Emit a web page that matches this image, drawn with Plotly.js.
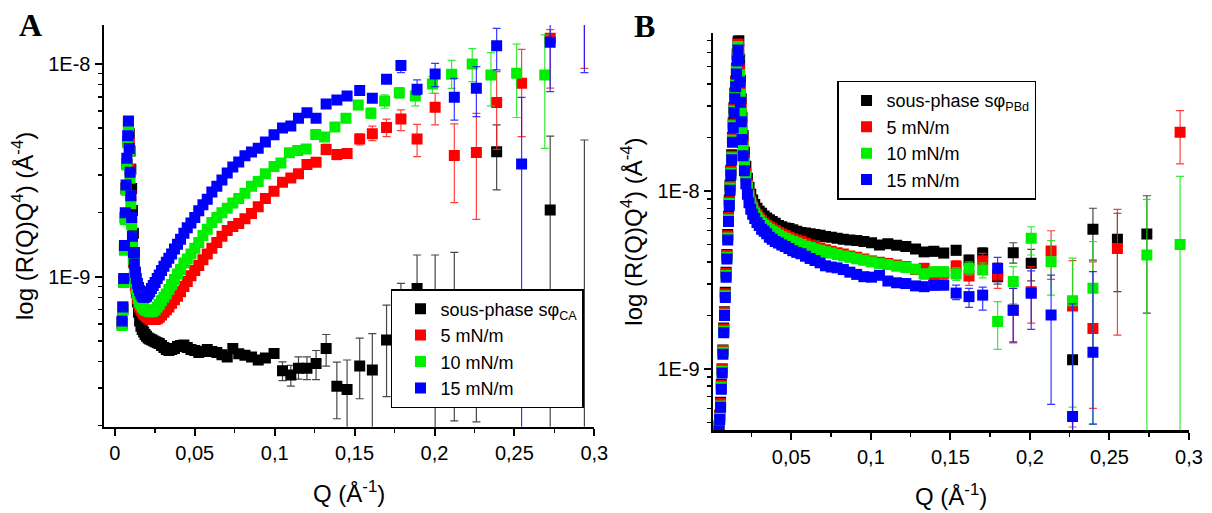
<!DOCTYPE html>
<html><head><meta charset="utf-8">
<script src="https://cdn.plot.ly/plotly-3.0.1.min.js"></script>
<style>html,body{margin:0;padding:0;background:#fff}#chart{width:1212px;height:513px}</style>
</head><body><div id="chart"></div>
<script>
// ---------- Panel A data ----------
var qA = [0.0045,0.005,0.0055,0.006,0.0065,0.007,0.0075,0.008,0.0085,0.009,
 0.0095,0.01,0.0105,0.011,0.0116,0.0122,0.0128,0.0134,0.0141,0.0148,
 0.0155,0.0163,0.0171,0.018,0.0189,0.0198,0.0208,0.0218,0.0229,0.024,
 0.0252,0.0265,0.0278,0.0292,0.0307,0.0322,0.0338,0.0355,0.0373,0.0392,
 0.0411,0.0432,0.0453,0.0476,0.05,0.0525,0.0551,0.0578,0.0607,0.0638,
 0.067,0.0703,0.0738,0.0775,0.0814,0.0855,0.0897,0.0942,0.0996,0.1049,
 0.1101,0.1149,0.1202,0.1259,0.1322,0.1389,0.1453,0.1532,0.1611,0.17,
 0.179,0.1891,0.2004,0.2124,0.2262,0.2389,0.2545,0.2724,0.2938];
var qAgreen = [0.0045,0.005,0.0055,0.006,0.0065,0.007,0.0075,0.008,0.0085,0.009,
 0.0095,0.01,0.0105,0.011,0.0116,0.0122,0.0128,0.0134,0.0141,0.0148,
 0.0155,0.0163,0.0171,0.018,0.0189,0.0198,0.0208,0.0218,0.0229,0.024,
 0.0252,0.0265,0.0278,0.0292,0.0307,0.0322,0.0338,0.0355,0.0373,0.0392,
 0.0411,0.0432,0.0453,0.0476,0.05,0.0525,0.0551,0.0578,0.0607,0.0638,
 0.067,0.0703,0.0738,0.0775,0.0814,0.0855,0.0897,0.0942,0.0996,0.1039,
 0.1092,0.1144,0.1197,0.1257,0.1312,0.1377,0.1446,0.1523,0.1602,0.1688,
 0.178,0.188,0.1987,0.2107,0.2236,0.2353,0.2514,0.269,0.2905];
var blackA = [6.0e-10,7.0e-10,9.5e-10,1.35e-9,1.9e-9,2.6e-9,3.4e-9,4.3e-9,5.3e-9,4.7e-9,
 3.9e-9,3.2e-9,2.6e-9,2.05e-9,1.6e-9,1.3e-9,1.05e-9,8.8e-10,7.6e-10,6.8e-10,
 6.2e-10,5.85e-10,5.65e-10,5.5e-10,5.35e-10,5.25e-10,5.15e-10,5.1e-10,5.05e-10,5.0e-10,
 4.95e-10,4.9e-10,4.85e-10,4.75e-10,4.65e-10,4.55e-10,4.5e-10,4.55e-10,4.6e-10,4.7e-10,
 4.75e-10,4.78e-10,4.65e-10,4.55e-10,4.5e-10,4.4e-10,4.45e-10,4.55e-10,4.45e-10,4.4e-10,
 4.3e-10,4.2e-10,4.6e-10,4.35e-10,4.28e-10,4.2e-10,4.06e-10,4.15e-10,4.36e-10,3.61e-10,
 3.45e-10,3.71e-10,3.71e-10,3.91e-10,4.6e-10,3.06e-10,2.95e-10,3.8e-10,3.64e-10,5.04e-10,
 6.5e-10,8.8e-10,6.0e-10,5.5e-10,4.0e-10,3.87e-9,null,2.06e-9,1.5e-10];
var redA = [6.1e-10,7.2e-10,9.6e-10,1.35e-9,1.9e-9,2.6e-9,3.4e-9,4.3e-9,5.2e-9,4.2e-9,
 3.2e-9,2.4e-9,1.85e-9,1.42e-9,1.17e-9,1.0e-9,9.1e-10,8.4e-10,7.9e-10,7.5e-10,
 7.2e-10,7.0e-10,6.85e-10,6.7e-10,6.6e-10,6.5e-10,6.4e-10,6.35e-10,6.3e-10,6.3e-10,
 6.3e-10,6.35e-10,6.45e-10,6.6e-10,6.8e-10,7.0e-10,7.2e-10,7.5e-10,7.8e-10,8.1e-10,
 8.5e-10,9.0e-10,9.5e-10,1.01e-9,1.07e-9,1.13e-9,1.2e-9,1.28e-9,1.36e-9,1.45e-9,
 1.55e-9,1.65e-9,1.72e-9,1.78e-9,1.87e-9,1.98e-9,2.13e-9,2.33e-9,2.52e-9,2.78e-9,
 2.91e-9,3.05e-9,3.37e-9,3.45e-9,3.96e-9,3.75e-9,3.79e-9,4.44e-9,4.7e-9,5.02e-9,
 5.51e-9,4.44e-9,6.25e-9,3.71e-9,3.83e-9,6.58e-9,8.11e-9,1.32e-8,2.2e-8];
var greenA = [5.9e-10,7.0e-10,9.4e-10,1.33e-9,1.85e-9,2.55e-9,3.35e-9,4.3e-9,5.1e-9,3.9e-9,
 2.9e-9,2.2e-9,1.75e-9,1.42e-9,1.2e-9,1.05e-9,9.5e-10,8.8e-10,8.3e-10,7.9e-10,
 7.6e-10,7.4e-10,7.2e-10,7.1e-10,7.0e-10,6.95e-10,6.9e-10,6.85e-10,6.85e-10,6.9e-10,
 7.0e-10,7.2e-10,7.4e-10,7.7e-10,8.0e-10,8.3e-10,8.7e-10,9.2e-10,9.7e-10,1.03e-9,
 1.08e-9,1.16e-9,1.21e-9,1.28e-9,1.36e-9,1.45e-9,1.56e-9,1.67e-9,1.8e-9,1.9e-9,
 2.0e-9,2.1e-9,2.22e-9,2.33e-9,2.47e-9,2.66e-9,2.8e-9,3.05e-9,3.3e-9,3.42e-9,
 3.82e-9,3.92e-9,3.98e-9,4.66e-9,4.54e-9,5.06e-9,5.55e-9,6.41e-9,5.87e-9,6.7e-9,
 7.33e-9,7.07e-9,8.05e-9,8.94e-9,1.0e-8,8.87e-9,9.04e-9,8.87e-9,null];
var blueA = [6.2e-10,7.2e-10,9.8e-10,1.4e-9,2.0e-9,2.7e-9,3.6e-9,4.6e-9,5.4e-9,4.0e-9,
 3.1e-9,2.4e-9,1.9e-9,1.55e-9,1.3e-9,1.15e-9,1.05e-9,9.8e-10,9.3e-10,8.9e-10,
 8.6e-10,8.3e-10,8.1e-10,8.0e-10,8.0e-10,8.1e-10,8.3e-10,8.5e-10,8.8e-10,9.1e-10,
 9.4e-10,9.8e-10,1.02e-9,1.07e-9,1.12e-9,1.17e-9,1.22e-9,1.28e-9,1.35e-9,1.42e-9,
 1.5e-9,1.6e-9,1.7e-9,1.79e-9,1.9e-9,2.04e-9,2.18e-9,2.31e-9,2.5e-9,2.66e-9,
 2.85e-9,3.07e-9,3.28e-9,3.46e-9,3.7e-9,3.86e-9,4.02e-9,4.3e-9,4.65e-9,5.0e-9,
 5.11e-9,5.55e-9,5.9e-9,5.55e-9,6.49e-9,6.77e-9,7.07e-9,7.5e-9,6.9e-9,8.47e-9,
 9.82e-9,7.6e-9,8.97e-9,6.97e-9,7.69e-9,1.216e-8,3.39e-9,1.264e-8,2.0e-8];
// error bar bounds for the last 20 points of panel A (index 59..78)
var errStartA = 59;
var blackAHi = [3.98e-10,3.83e-10,4.2e-10,4.2e-10,4.5e-10,5.35e-10,3.97e-10,4.06e-10,5.14e-10,5.4e-10,7.36e-10,9.3e-10,1.265e-9,1.265e-9,1.3e-9,8.0e-10,5.17e-9,null,4.58e-9,4.39e-9];
var blackALo = [3.25e-10,3.06e-10,3.3e-10,3.28e-10,3.28e-10,3.8e-10,2.15e-10,0,2.67e-10,0,2.73e-10,4.5e-10,6.0e-10,0,2.1e-10,2.08e-10,2.56e-9,null,0,null];
var redAHi = [null,null,null,null,null,4.2e-9,3.95e-9,4.0e-9,4.69e-9,5.1e-9,5.5e-9,6.08e-9,5.2e-9,7.28e-9,5.23e-9,5.86e-9,9.2e-9,1.17e-8,1.45e-8,3.0e-8];
var redALo = [null,null,null,null,null,3.75e-9,3.55e-9,3.6e-9,4.16e-9,4.36e-9,4.55e-9,4.86e-9,3.67e-9,5.17e-9,2.23e-9,1.86e-9,3.97e-9,4.55e-9,7.7e-9,9.54e-9];
var greenAHi = [null,null,null,null,null,null,null,5.8e-9,6.7e-9,6.2e-9,7.15e-9,7.75e-9,7.55e-9,8.73e-9,1.04e-8,1.18e-8,1.13e-8,1.24e-8,1.37e-8,null];
var greenALo = [null,null,null,null,null,null,null,5.3e-9,6.1e-9,5.55e-9,6.19e-9,6.9e-9,6.35e-9,7.28e-9,7.68e-9,8.26e-9,6.35e-9,5.6e-9,4.01e-9,null];
var blueAHi = [null,null,null,null,null,null,null,null,7.8e-9,7.2e-9,8.85e-9,1.026e-8,8.41e-9,1.007e-8,8.56e-9,9.72e-9,1.47e-8,6.97e-9,1.6e-8,3.0e-8];
var blueALo = [null,null,null,null,null,null,null,null,7.2e-9,6.6e-9,8.1e-9,9.1e-9,7.15e-9,7.82e-9,5.45e-9,5.65e-9,9.37e-9,0,7.41e-9,9.1e-9];

// ---------- Panel B data ----------
var qB = [0.0045,0.005,0.0055,0.006,0.0065,0.007,0.0075,0.008,0.0085,0.009,
 0.0095,0.01,0.0105,0.011,0.0115,0.012,0.0125,0.013,0.0135,0.014,
 0.0145,0.015,0.0155,0.016,0.0165,0.017,0.0175,0.018,0.0185,0.019,
 0.0197,0.0205,0.0214,0.0224,0.0234,0.0245,0.0257,0.027,0.0284,0.0298,
 0.0313,0.0329,0.0345,0.0362,0.038,0.0399,0.0419,0.044,0.0462,0.0485,
 0.0509,0.0534,0.0561,0.0589,0.0618,0.0649,0.0681,0.0715,0.0751,0.0788,
 0.0827,0.0868,0.0911,0.0956,0.1004,0.1054,0.1107,0.1162,0.122,0.1281,
 0.1335,0.1396,0.1458,0.1536,0.1617,0.1703,0.1797,0.1895,0.2008,0.2133,
 0.2268,0.2396,0.255,0.2735,0.2944];
var blackB = [4.8e-10,5.5e-10,6.5e-10,8.2e-10,1.0e-9,1.28e-9,1.7e-9,2.1e-9,2.7e-9,3.5e-9,
 4.4e-9,5.7e-9,7.2e-9,8.9e-9,1.08e-8,1.31e-8,1.6e-8,2.0e-8,2.42e-8,2.95e-8,
 3.55e-8,4.15e-8,4.9e-8,5.9e-8,6.9e-8,7.0e-8,5.5e-8,4.2e-8,3.3e-8,2.6e-8,
 2.05e-8,1.65e-8,1.38e-8,1.18e-8,1.05e-8,9.6e-9,8.9e-9,8.4e-9,8.0e-9,7.7e-9,
 7.5e-9,7.25e-9,7.05e-9,6.9e-9,6.75e-9,6.6e-9,6.4e-9,6.3e-9,6.2e-9,6.15e-9,
 6.05e-9,5.95e-9,5.85e-9,5.8e-9,5.75e-9,5.7e-9,5.64e-9,5.55e-9,5.5e-9,5.42e-9,
 5.36e-9,5.3e-9,5.28e-9,5.2e-9,5.12e-9,4.98e-9,5.05e-9,4.95e-9,4.88e-9,4.72e-9,
 4.55e-9,4.58e-9,4.48e-9,4.64e-9,4.09e-9,4.48e-9,3.3e-9,4.5e-9,3.93e-9,null,
 1.125e-9,6.1e-9,5.36e-9,5.73e-9,null];
var redB = [4.7e-10,5.5e-10,6.4e-10,8.1e-10,1.0e-9,1.27e-9,1.68e-9,2.08e-9,2.65e-9,3.45e-9,
 4.35e-9,5.6e-9,7.1e-9,8.7e-9,1.06e-8,1.29e-8,1.57e-8,1.97e-8,2.38e-8,2.9e-8,
 3.5e-8,4.1e-8,4.85e-8,5.8e-8,6.7e-8,6.2e-8,4.9e-8,3.8e-8,2.95e-8,2.35e-8,
 1.85e-8,1.5e-8,1.26e-8,1.09e-8,9.7e-9,8.8e-9,8.2e-9,7.7e-9,7.35e-9,7.05e-9,
 6.8e-9,6.6e-9,6.42e-9,6.28e-9,6.14e-9,6.0e-9,5.86e-9,5.74e-9,5.62e-9,5.5e-9,
 5.4e-9,5.3e-9,5.2e-9,5.08e-9,4.98e-9,4.88e-9,4.78e-9,4.68e-9,4.58e-9,4.5e-9,
 4.42e-9,4.32e-9,4.25e-9,4.15e-9,4.05e-9,3.98e-9,3.92e-9,3.84e-9,3.76e-9,3.62e-9,
 3.68e-9,3.27e-9,3.45e-9,3.79e-9,3.33e-9,4.05e-9,3.37e-9,2.14e-9,2.72e-9,4.6e-9,
 2.26e-9,1.69e-9,4.76e-9,null,2.14e-8];
var greenB = [4.6e-10,5.3e-10,6.2e-10,7.9e-10,9.7e-10,1.24e-9,1.63e-9,2.03e-9,2.58e-9,3.35e-9,
 4.25e-9,5.45e-9,6.9e-9,8.5e-9,1.04e-8,1.26e-8,1.54e-8,1.93e-8,2.33e-8,2.82e-8,
 3.4e-8,3.95e-8,4.7e-8,5.6e-8,6.5e-8,5.8e-8,4.5e-8,3.5e-8,2.75e-8,2.2e-8,
 1.75e-8,1.43e-8,1.21e-8,1.06e-8,9.4e-9,8.6e-9,8.0e-9,7.5e-9,7.15e-9,6.85e-9,
 6.6e-9,6.4e-9,6.22e-9,6.06e-9,5.92e-9,5.8e-9,5.66e-9,5.54e-9,5.42e-9,5.3e-9,
 5.2e-9,5.1e-9,5.0e-9,4.9e-9,4.82e-9,4.73e-9,4.64e-9,4.56e-9,4.48e-9,4.4e-9,
 4.32e-9,4.24e-9,4.16e-9,4.08e-9,4.0e-9,3.92e-9,3.86e-9,3.78e-9,3.72e-9,3.64e-9,
 3.42e-9,3.52e-9,3.52e-9,3.42e-9,3.68e-9,3.6e-9,1.85e-9,3.1e-9,5.42e-9,4.01e-9,
 2.42e-9,2.84e-9,null,4.37e-9,5.01e-9];
var blueB = [4.5e-10,5.2e-10,6.1e-10,7.7e-10,9.5e-10,1.21e-9,1.6e-9,2.0e-9,2.52e-9,3.28e-9,
 4.15e-9,5.3e-9,6.75e-9,8.3e-9,1.01e-8,1.23e-8,1.5e-8,1.88e-8,2.27e-8,2.75e-8,
 3.3e-8,3.85e-8,4.55e-8,5.4e-8,6.2e-8,5.4e-8,4.1e-8,3.15e-8,2.45e-8,1.95e-8,
 1.58e-8,1.3e-8,1.1e-8,9.6e-9,8.6e-9,7.9e-9,7.4e-9,7.0e-9,6.65e-9,6.4e-9,
 6.1e-9,5.95e-9,5.75e-9,5.5e-9,5.35e-9,5.2e-9,5.1e-9,4.98e-9,4.88e-9,4.75e-9,
 4.62e-9,4.52e-9,4.44e-9,4.3e-9,4.18e-9,4.07e-9,3.95e-9,3.8e-9,3.74e-9,3.7e-9,
 3.62e-9,3.5e-9,3.4e-9,3.3e-9,3.28e-9,3.36e-9,3.12e-9,3.05e-9,3.02e-9,2.93e-9,
 2.9e-9,2.95e-9,2.96e-9,2.67e-9,2.55e-9,2.6e-9,3.68e-9,2.14e-9,2.66e-9,2.01e-9,
 5.4e-10,1.24e-9,null,null,null];
// error bar bounds for the last 15 points of panel B (index 70..84)
var errStartB = 70;
var blackBHi = [4.75e-9,4.8e-9,4.7e-9,4.9e-9,4.35e-9,4.8e-9,3.6e-9,5.12e-9,4.7e-9,null,2.55e-9,8.0e-9,7.5e-9,9.41e-9,null];
var blackBLo = [4.35e-9,4.38e-9,4.28e-9,4.4e-9,3.85e-9,4.2e-9,3.0e-9,3.93e-9,3.13e-9,null,0,4.09e-9,2.72e-9,2.06e-9,null];
var redBHi = [3.9e-9,3.5e-9,3.7e-9,4.05e-9,3.68e-9,4.46e-9,3.93e-9,2.84e-9,3.76e-9,5.98e-9,4.06e-9,4.0e-9,7.89e-9,null,2.83e-8];
var redBLo = [3.45e-9,3.05e-9,3.2e-9,3.55e-9,2.95e-9,3.6e-9,2.84e-9,1.4e-9,1.81e-9,3.19e-9,4.72e-10,6.0e-10,1.55e-9,null,1.42e-8];
var greenBHi = [3.65e-9,3.75e-9,3.75e-9,3.7e-9,4.0e-9,3.95e-9,2.39e-9,3.76e-9,6.3e-9,5.26e-9,4.2e-9,5.19e-9,null,8.98e-9,1.21e-8];
var greenBLo = [3.2e-9,3.3e-9,3.3e-9,3.15e-9,3.38e-9,3.25e-9,1.29e-9,2.32e-9,4.37e-9,2.6e-9,6.1e-10,4.9e-10,null,0,0];
var blueBHi = [3.05e-9,3.1e-9,3.15e-9,2.96e-9,2.84e-9,2.88e-9,4.24e-9,2.84e-9,3.56e-9,3.37e-9,2.32e-9,3.52e-9,null,null,null];
var blueBLo = [2.75e-9,2.8e-9,2.78e-9,2.45e-9,2.22e-9,2.14e-9,3.1e-9,1.42e-9,1.67e-9,6.33e-10,0,4.9e-10,null,null,null];

// ---------- labels ----------
var seriesNamesA = ['sous-phase s\u03c6<sub>CA</sub>','5 mN/m','10 mN/m','15 mN/m'];
var seriesNamesB = ['sous-phase s\u03c6<sub>PBd</sub>','5 mN/m','10 mN/m','15 mN/m'];
var colors = ['#000000','#ff0000','#00ee00','#0000ff'];
var errColors = ['rgba(40,40,40,0.85)','rgba(255,30,30,0.85)','rgba(20,230,20,0.85)','rgba(20,20,255,0.85)'];
var xTickValsA = [0,0.05,0.1,0.15,0.2,0.25,0.3];
var xTickTextA = ['0','0,05','0,1','0,15','0,2','0,25','0,3'];
var xTickValsB = [0.05,0.1,0.15,0.2,0.25,0.3];
var xTickTextB = ['0,05','0,1','0,15','0,2','0,25','0,3'];
var xMinor = [0.025,0.075,0.125,0.175,0.225,0.275];
var yTickVals = [1e-9,1e-8];
var yTickText = ['1E-9','1E-8'];
var yMinor = [2e-10,3e-10,4e-10,5e-10,6e-10,7e-10,8e-10,9e-10,2e-9,3e-9,4e-9,5e-9,6e-9,7e-9,8e-9,9e-9,2e-8,3e-8,4e-8,5e-8,6e-8,7e-8,8e-8,9e-8];

function errBars(vals, hi, lo, start, col) {
  var plus = [], minus = [];
  for (var i = 0; i < vals.length; i++) {
    var v = vals[i], k = i - start;
    var h = (k >= 0 && k < hi.length) ? hi[k] : null;
    var l = (k >= 0 && k < lo.length) ? lo[k] : null;
    plus.push(v != null && h != null ? h - v : 0);
    minus.push(v != null && l != null ? v - l : 0);
  }
  return {type:'data', symmetric:false, array:plus, arrayminus:minus, color:col, thickness:1.2, width:4};
}

function mk(x, y, hi, lo, start, idx, names, xa, ya, leg) {
  return {
    type:'scatter', mode:'markers', x:x, y:y, name:names[idx],
    xaxis:xa, yaxis:ya, legend:leg,
    marker:{symbol:'square', size:11, color:colors[idx], line:{width:0}},
    error_y: errBars(y, hi, lo, start, errColors[idx]),
    hoverinfo:'skip'
  };
}

var traces = [
  mk(qA, blackA, blackAHi, blackALo, errStartA, 0, seriesNamesA, 'x', 'y', 'legend'),
  mk(qA, redA, redAHi, redALo, errStartA, 1, seriesNamesA, 'x', 'y', 'legend'),
  mk(qAgreen, greenA, greenAHi, greenALo, errStartA, 2, seriesNamesA, 'x', 'y', 'legend'),
  mk(qA, blueA, blueAHi, blueALo, errStartA, 3, seriesNamesA, 'x', 'y', 'legend'),
  mk(qB, blackB, blackBHi, blackBLo, errStartB, 0, seriesNamesB, 'x2', 'y2', 'legend2'),
  mk(qB, redB, redBHi, redBLo, errStartB, 1, seriesNamesB, 'x2', 'y2', 'legend2'),
  mk(qB, greenB, greenBHi, greenBLo, errStartB, 2, seriesNamesB, 'x2', 'y2', 'legend2'),
  mk(qB, blueB, blueBHi, blueBLo, errStartB, 3, seriesNamesB, 'x2', 'y2', 'legend2')
];

var FONT = '"Liberation Sans", Arial, Helvetica, sans-serif';
function axis(extra) {
  var a = {
    showline:true, linecolor:'#000', linewidth:2.5,
    ticks:'outside', ticklen:7, tickwidth:2, tickcolor:'#000',
    showgrid:false, zeroline:false, mirror:false, fixedrange:true,
    tickfont:{family:FONT, size:20, color:'#000'},
    minor:{ticks:'outside', ticklen:4, tickwidth:1.5, tickcolor:'#000', showgrid:false}
  };
  for (var k in extra) a[k] = extra[k];
  return a;
}
var xTitle = {text:'Q (\u00c5<sup>-1</sup>)', font:{family:FONT, size:24, color:'#000'}, standoff:22};
var yTitle = {text:'log (R(Q)Q<sup>4</sup>) (\u00c5<sup>-4</sup>)', font:{family:FONT, size:24, color:'#000'}, standoff:8};

var layout = {
  width:1212, height:513,
  margin:{l:104, r:23, t:25, b:83},
  paper_bgcolor:'#fff', plot_bgcolor:'#fff',
  showlegend:true,
  xaxis: axis({domain:[0,0.4519], range:[-0.0068,0.3], tickmode:'array', tickvals:xTickValsA, ticktext:xTickTextA,
    minor:{ticks:'outside', ticklen:4, tickwidth:1.5, tickcolor:'#000', showgrid:false, tickmode:'array', tickvals:xMinor},
    title:xTitle, anchor:'y'}),
  yaxis: axis({domain:[0.0081,1], type:'log', range:[-9.705,-7.817], tickmode:'array', tickvals:yTickVals, ticktext:yTickText,
    minor:{ticks:'outside', ticklen:4, tickwidth:1.5, tickcolor:'#000', showgrid:false, tickmode:'array', tickvals:yMinor},
    title:yTitle, anchor:'x'}),
  xaxis2: axis({domain:[0.5615,1], range:[0.0009,0.3], tickmode:'array', tickvals:xTickValsB, ticktext:xTickTextB,
    minor:{ticks:'outside', ticklen:4, tickwidth:1.5, tickcolor:'#000', showgrid:false, tickmode:'array', tickvals:xMinor},
    title:xTitle, anchor:'y2'}),
  yaxis2: axis({domain:[0,0.9802], type:'log', range:[-9.343,-7.112], tickmode:'array', tickvals:yTickVals, ticktext:yTickText,
    minor:{ticks:'outside', ticklen:4, tickwidth:1.5, tickcolor:'#000', showgrid:false, tickmode:'array', tickvals:yMinor},
    title:yTitle, anchor:'x2'}),
  legend:{x:0.2645, y:0.3481, xanchor:'left', yanchor:'top', bgcolor:'#fff', bordercolor:'#000', borderwidth:1.5,
    font:{family:FONT, size:18, color:'#000'}, indentation:8, itemclick:false, itemdoubleclick:false},
  legend2:{x:0.6756, y:0.8625, xanchor:'left', yanchor:'top', bgcolor:'#fff', bordercolor:'#000', borderwidth:1.5,
    font:{family:FONT, size:18, color:'#000'}, indentation:8, itemclick:false, itemdoubleclick:false},
  annotations:[
    {text:'<b>A</b>', xref:'paper', yref:'paper', x:-0.068, y:1.0, xanchor:'center', yanchor:'middle', showarrow:false,
     font:{family:'"Liberation Serif", "Times New Roman", serif', size:32, color:'#000'}},
    {text:'<b>B</b>', xref:'paper', yref:'paper', x:0.4977, y:0.9975, xanchor:'center', yanchor:'middle', showarrow:false,
     font:{family:'"Liberation Serif", "Times New Roman", serif', size:32, color:'#000'}}
  ]
};

Plotly.newPlot('chart', traces, layout, {displayModeBar:false, staticPlot:true});
</script></body></html>
